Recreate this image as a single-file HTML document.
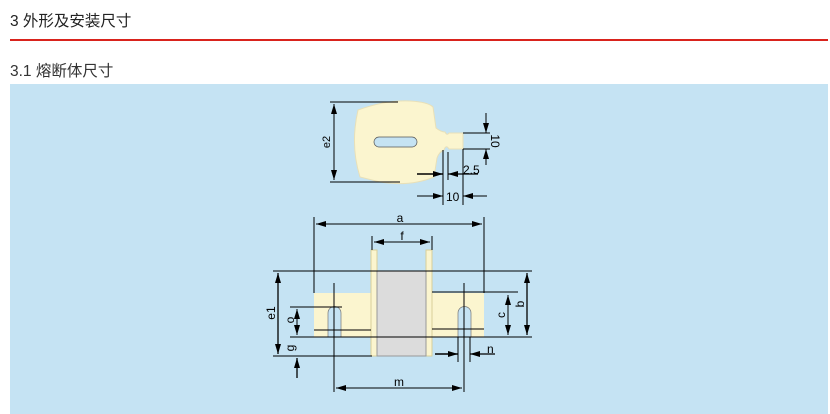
<!DOCTYPE html>
<html><head><meta charset="utf-8"><style>
body{margin:0;width:830px;height:414px;background:#fff;position:relative;overflow:hidden;font-family:"Liberation Sans","Noto Sans CJK SC",sans-serif}
.t{position:absolute;left:10px;color:#222}
</style></head><body>
<div class="t" style="top:9px;font-size:15.5px">3 外形及安装尺寸</div>
<div style="position:absolute;left:10px;top:39px;width:818px;height:2px;background:#d9231d"></div>
<div class="t" style="top:59px;font-size:15.5px;color:#333">3.1 熔断体尺寸</div>
<div style="position:absolute;left:10px;top:84px;width:818px;height:330px;background:#c5e3f3"></div>
<svg style="position:absolute;left:0;top:0" width="830" height="414" font-family="Liberation Sans, sans-serif" font-size="11">
<defs><marker id="a" viewBox="0 0 10 6" refX="10" refY="3" markerWidth="10" markerHeight="6" orient="auto-start-reverse" markerUnits="userSpaceOnUse"><path d="M0,0L10,3L0,6z" fill="#000"/></marker></defs>
<g stroke="#000" stroke-width="1" fill="none">
<!-- top part -->
<path d="M358,110 Q385,100 410,101 Q428,102 433,107 L436,128 Q441,132 445,132 Q447,136 449,133 L463,133 L463,149 L449,149 Q446,144 444,150 Q439,152 437,158 L434,177 Q410,187 380,182 L360,177 Q350,145 358,110z" fill="#fbf5cf" stroke="#e8e0b8"/>
<rect x="374" y="137" width="43" height="10" rx="5" fill="#c5e3f3" stroke="#555" stroke-width="0.7"/>
<line x1="330" y1="102" x2="398" y2="102"/><line x1="330" y1="182" x2="400" y2="182"/>
<line x1="334" y1="104" x2="334" y2="180" marker-start="url(#a)" marker-end="url(#a)"/>
<line x1="463" y1="133" x2="490" y2="133"/><line x1="463" y1="149" x2="490" y2="149"/>
<line x1="486" y1="113" x2="486" y2="133" marker-end="url(#a)"/><line x1="486" y1="165" x2="486" y2="149" marker-end="url(#a)"/>
<line x1="443" y1="150" x2="443" y2="205"/><line x1="448" y1="152" x2="448" y2="180"/><line x1="463" y1="149" x2="463" y2="205"/>
<line x1="417" y1="174" x2="443" y2="174" marker-end="url(#a)" stroke-width="1.5"/><line x1="478" y1="174" x2="448" y2="174" marker-end="url(#a)" stroke-width="1.3"/>
<line x1="417" y1="196" x2="443" y2="196" marker-end="url(#a)"/><line x1="487" y1="196" x2="463" y2="196" marker-end="url(#a)"/>
<!-- bottom part -->
<rect x="314" y="293" width="57" height="44" fill="#fbf5cf" stroke="none"/>
<rect x="432" y="293" width="52" height="44" fill="#fbf5cf" stroke="none"/>
<rect x="371" y="250" width="6" height="106" fill="#fbf5cf" stroke="#d8cf9a"/>
<rect x="426" y="250" width="6" height="106" fill="#fbf5cf" stroke="#d8cf9a"/>
<rect x="377" y="271" width="49" height="85" fill="#dcdcdc" stroke="#999"/>
<path d="M328,337 L328,313 A6.5,6.5 0 0 1 341,313 L341,337z" fill="#c5e3f3" stroke="#777" stroke-width="0.7"/>
<path d="M458,337 L458,313 A6.5,6.5 0 0 1 471,313 L471,337z" fill="#c5e3f3" stroke="#777" stroke-width="0.7"/>
<line x1="314" y1="330" x2="371" y2="330"/><line x1="432" y1="329" x2="484" y2="329"/>
<line x1="314" y1="217" x2="314" y2="293"/><line x1="484" y1="217" x2="484" y2="293"/>
<line x1="316" y1="224" x2="482" y2="224" marker-start="url(#a)" marker-end="url(#a)"/>
<line x1="372" y1="236" x2="372" y2="250"/><line x1="432" y1="236" x2="432" y2="250"/>
<line x1="374" y1="242" x2="430" y2="242" marker-start="url(#a)" marker-end="url(#a)"/>
<line x1="273" y1="271" x2="532" y2="271"/>
<line x1="290" y1="337" x2="532" y2="337"/>
<line x1="273" y1="356" x2="372" y2="356"/>
<line x1="290" y1="307" x2="342" y2="307"/>
<line x1="432" y1="292" x2="518" y2="292"/>
<line x1="278" y1="273" x2="278" y2="354" marker-start="url(#a)" marker-end="url(#a)" stroke-width="1.3"/>
<line x1="297" y1="309" x2="297" y2="335" marker-start="url(#a)" marker-end="url(#a)"/>
<line x1="297" y1="378" x2="297" y2="358" marker-end="url(#a)" stroke-width="1.3"/>
<line x1="508" y1="295" x2="508" y2="335" marker-start="url(#a)" marker-end="url(#a)"/>
<line x1="527" y1="273" x2="527" y2="335" marker-start="url(#a)" marker-end="url(#a)" stroke-width="1.3"/>
<line x1="334" y1="283" x2="334" y2="392"/><line x1="464" y1="283" x2="464" y2="392"/>
<line x1="336" y1="388" x2="462" y2="388" marker-start="url(#a)" marker-end="url(#a)"/>
<line x1="458" y1="337" x2="458" y2="362"/><line x1="470" y1="337" x2="470" y2="362"/>
<line x1="435" y1="354" x2="458" y2="354" marker-end="url(#a)" stroke-width="1.5"/><line x1="495" y1="354" x2="470" y2="354" marker-end="url(#a)" stroke-width="1.3"/>
</g>
<g fill="#000">
<text x="330" y="142" transform="rotate(-90 330 142)" text-anchor="middle">e2</text>
<text x="491" y="141" transform="rotate(90 491 141)" text-anchor="middle" font-size="12">10</text>
<text x="463" y="174" font-size="12">2.5</text>
<text x="446" y="201" font-size="12">10</text>
<text x="400" y="222" text-anchor="middle" font-size="12">a</text>
<text x="402" y="240" text-anchor="middle" font-size="12">f</text>
<text x="275" y="313" transform="rotate(-90 275 313)" text-anchor="middle" font-size="12">e1</text>
<text x="294" y="320" transform="rotate(-90 294 320)" text-anchor="middle" font-size="12">o</text>
<text x="294" y="348" transform="rotate(-90 294 348)" text-anchor="middle" font-size="12">g</text>
<text x="505" y="315" transform="rotate(-90 505 315)" text-anchor="middle" font-size="12">c</text>
<text x="524" y="304" transform="rotate(-90 524 304)" text-anchor="middle" font-size="12">b</text>
<text x="399" y="386" text-anchor="middle" font-size="12">m</text>
<text x="487" y="353" font-size="12">n</text>
</g>
</svg>
</body></html>
